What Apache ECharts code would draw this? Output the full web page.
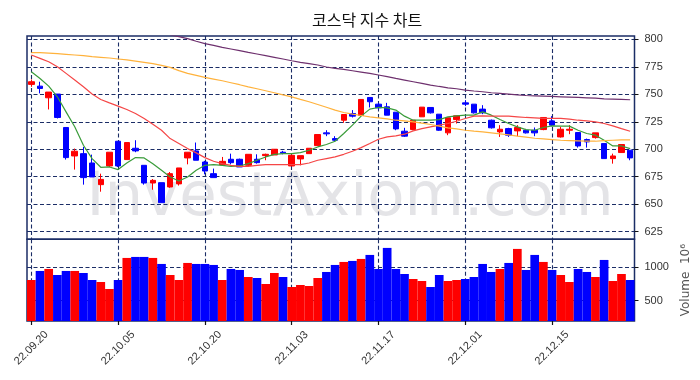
<!DOCTYPE html>
<html><head><meta charset="utf-8">
<script src="https://cdn.jsdelivr.net/npm/echarts@6/dist/echarts.min.js"></script>
<style>html,body{margin:0;padding:0;background:#fff}#c{width:700px;height:380px}</style>
</head><body><div id="c"></div>
<script>
const dates = ['22.09.20','22.09.21','22.09.22','22.09.23','22.09.26','22.09.27','22.09.28','22.09.29','22.09.30','22.10.04',
'22.10.05','22.10.06','22.10.07','22.10.11','22.10.12','22.10.13','22.10.14','22.10.17','22.10.18','22.10.19',
'22.10.20','22.10.21','22.10.24','22.10.25','22.10.26','22.10.27','22.10.28','22.10.31','22.11.01','22.11.02',
'22.11.03','22.11.04','22.11.07','22.11.08','22.11.09','22.11.10','22.11.11','22.11.14','22.11.15','22.11.16',
'22.11.17','22.11.18','22.11.21','22.11.22','22.11.23','22.11.24','22.11.25','22.11.28','22.11.29','22.11.30',
'22.12.01','22.12.02','22.12.05','22.12.06','22.12.07','22.12.08','22.12.09','22.12.12','22.12.13','22.12.14',
'22.12.15','22.12.16','22.12.19','22.12.20','22.12.21','22.12.22','22.12.23','22.12.26','22.12.27','22.12.28'];
const tickDates = ['22.09.20','22.10.05','22.10.20','22.11.03','22.11.17','22.12.01','22.12.15'];
const openP = [759.0,757.4,746.8,750.2,719.8,693.9,696.0,687.5,667.8,684.8,
707.3,690.6,700.9,685.4,669.3,669.6,665.7,668.5,692.1,698.5,
688.4,677.8,686.0,690.9,690.9,685.4,690.9,694.2,694.8,697.3,
684.8,691.2,696.0,703.3,714.9,709.7,726.4,732.5,730.7,747.1,
741.0,738.6,733.7,716.4,717.9,729.5,738.0,731.9,714.9,727.0,
742.2,741.0,736.5,726.4,715.8,718.8,716.7,717.3,717.3,717.9,
725.8,711.2,717.3,715.2,708.8,710.6,705.2,691.5,697.0,699.1];
const closeP = [761.4,755.3,752.0,728.9,692.4,698.2,674.2,674.8,672.6,697.3,
684.8,706.1,698.5,669.3,671.7,651.4,677.8,683.0,697.3,690.0,
680.2,674.2,689.0,687.8,683.9,695.4,687.8,695.4,700.0,696.4,
694.5,694.2,700.9,713.4,714.0,708.2,731.6,730.1,745.3,743.2,
737.7,731.0,718.5,711.9,726.4,738.3,733.1,717.3,728.6,730.4,
741.0,733.1,733.1,719.5,718.2,712.8,719.8,714.9,714.9,728.9,
721.9,718.2,718.2,703.0,706.7,714.9,691.5,693.9,704.3,692.1];
const lowP = [756.8,750.8,736.2,728.0,690.6,681.5,667.8,674.8,661.4,683.9,
683.9,690.6,697.3,667.8,663.2,651.4,665.0,667.0,686.3,690.0,
677.2,674.2,685.4,686.3,683.9,684.8,686.9,690.0,694.8,695.4,
684.8,685.4,696.0,703.3,711.9,707.0,724.0,728.9,730.7,738.0,
736.2,731.0,717.3,711.2,717.3,729.5,732.5,716.7,712.8,723.4,
739.2,732.5,731.9,718.8,711.2,711.2,711.9,714.3,711.9,717.3,
721.0,710.6,713.7,701.5,701.5,709.7,691.5,686.9,696.7,690.0];
const highP = [763.5,761.4,752.0,750.2,719.8,700.6,702.1,695.1,677.8,697.3,
707.3,706.1,708.2,685.4,672.9,669.6,679.3,683.0,697.3,706.1,
689.4,682.4,693.0,696.0,691.5,695.4,695.4,696.0,700.0,698.5,
695.4,694.2,700.9,713.4,717.3,711.9,731.6,735.6,745.3,747.1,
742.2,742.2,733.7,719.5,726.4,738.3,738.0,731.9,728.6,730.4,
744.7,741.0,740.1,727.0,721.9,719.5,721.9,718.5,719.8,728.9,
730.1,720.4,721.9,715.2,709.7,714.9,705.2,696.0,704.3,699.1];
const volume = [810,945,975,885,945,945,915,810,780,675,
810,1140,1155,1155,1140,1050,885,810,1065,1050,
1050,1035,810,975,960,855,840,750,915,855,
705,735,720,840,930,1035,1080,1095,1125,1185,
975,1290,975,900,825,795,705,885,795,810,
825,855,1050,930,975,1065,1275,960,1185,1080,
960,885,780,975,930,855,1110,795,900,810];
const ma5 = [770.5,764.4,757.4,747.7,734.0,720.4,703.6,691.5,683.6,683.9,
681.5,687.5,692.4,692.1,686.9,680.9,674.8,671.1,674.8,680.9,
685.4,686.0,685.4,684.5,684.8,686.9,690.0,693.0,695.4,696.0,
696.0,697.0,699.1,702.1,704.3,707.3,714.3,721.9,730.1,736.5,
738.0,737.7,735.6,730.1,726.4,726.4,726.4,727.0,729.5,730.4,
731.0,731.0,734.0,731.0,727.0,723.4,720.4,717.9,717.3,719.8,
721.3,721.0,721.0,717.3,714.3,712.8,708.2,703.0,703.0,700.6];
const ma20 = [785.7,782.7,779.6,775.1,769.0,762.9,756.8,750.2,745.3,742.2,
739.2,736.2,732.5,728.0,722.8,717.3,709.7,705.2,700.6,696.7,
692.4,689.1,686.9,685.4,684.5,684.5,685.4,686.0,686.0,686.0,
686.0,686.0,687.5,690.0,691.5,693.0,695.4,698.2,701.5,705.2,
709.1,711.2,712.2,713.7,716.7,718.8,720.4,721.9,723.4,725.5,
728.0,730.1,730.4,730.1,730.1,730.1,729.5,728.9,728.6,728.0,
728.0,728.0,727.4,726.4,725.8,724.9,723.4,721.3,718.8,716.4];
const ma60 = [787.8,787.8,787.5,786.9,786.3,785.7,785.1,784.2,783.6,783.0,
782.1,781.2,780.2,779.0,777.8,776.3,774.5,771.5,769.0,767.2,
765.3,763.8,762.3,760.5,758.7,756.8,755.0,753.2,751.4,749.5,
747.7,745.3,743.2,740.7,738.2,735.6,733.4,731.9,730.7,729.5,
728.6,727.7,726.4,725.8,724.9,723.7,722.5,721.0,719.5,718.5,
717.3,716.4,715.8,714.9,714.0,713.1,711.9,711.0,710.0,709.4,
708.8,708.2,707.9,707.6,707.3,707.3,707.9,708.2,708.5,708.5];
const ma120 = [null,null,null,null,null,null,null,null,null,null,
null,null,null,null,null,null,804.0,802.4,800.6,798.2,
796.0,794.5,792.7,791.2,789.7,788.1,786.6,785.1,783.6,782.1,
780.5,779.0,777.8,776.6,774.8,773.6,772.6,771.4,770.2,769.0,
767.5,766.0,764.4,762.9,761.4,759.9,758.4,757.1,755.9,755.0,
753.8,753.0,752.3,751.4,750.8,750.2,749.5,748.9,748.6,748.3,
748.0,747.7,747.4,747.1,746.8,746.5,745.9,745.6,745.3,745.0];
const priceTicks = [625,650,675,700,725,750,775,800];
const volumeTicks = [500,1000];

const NAVY = '#1b2d66';
const UP = '#ff0000', DOWN = '#0000ff';
const candleData = dates.map((d, i) => [openP[i], closeP[i], lowP[i], highP[i]]);
const volData = volume.map((v, i) => ({
  value: v,
  itemStyle: { color: closeP[i] > openP[i] ? UP : DOWN }
}));
const showTick = (idx, val) => tickDates.includes(val);
const dashed = { show: true, interval: showTick, alignWithLabel: true,
  lineStyle: { color: NAVY, type: [4, 2.5], width: 1.1 } };
const labelFont = { fontFamily: 'Liberation Sans, Arial, sans-serif', fontSize: 11, color: '#333' };

const chart = echarts.init(document.getElementById('c'), null, { renderer: 'canvas' });
chart.setOption({
  animation: false,
  backgroundColor: '#fff',
  title: {
    text: '코스닥 지수 차트', left: 307, top: 7,
    textStyle: { fontSize: 16, fontWeight: 'normal', color: '#111', fontFamily: 'Noto Sans CJK KR' }
  },
  graphic: [{
    type: 'text', z: -10, silent: true,
    style: { text: 'InvestAxiom.com', x: 350, y: 199, textAlign: 'center', textVerticalAlign: 'middle',
      font: '61px "DejaVu Sans"', fill: '#e4e4e7' }
  }],
  grid: [
    { left: 27, right: 65.5, top: 36, height: 203.3, show: true, borderColor: NAVY, borderWidth: 1.5 },
    { left: 27, right: 65.5, top: 239.3, height: 81.7, show: true, borderColor: NAVY, borderWidth: 1.5 }
  ],
  xAxis: [
    { type: 'category', gridIndex: 0, data: dates, boundaryGap: true,
      axisLine: { show: false }, axisTick: { show: false }, axisLabel: { show: false },
      splitLine: dashed },
    { type: 'category', gridIndex: 1, data: dates, boundaryGap: true,
      axisLine: { show: false },
      axisTick: { show: true, interval: showTick, alignWithLabel: true, length: 4, inside: false,
        lineStyle: { color: '#111', width: 1.2 } },
      axisLabel: Object.assign({ interval: showTick, rotate: 45, align: 'center', verticalAlign: 'middle', margin: 27 }, labelFont),
      splitLine: dashed }
  ],
  yAxis: [
    { type: 'value', gridIndex: 0, position: 'right', min: 618.1, max: 803, scale: true,
      axisLine: { show: false },
      axisTick: { show: true, customValues: priceTicks, length: 4, lineStyle: { color: '#111' } },
      axisLabel: Object.assign({ customValues: priceTicks, margin: 10, formatter: v => String(v) }, labelFont),
      splitLine: { show: true, lineStyle: { color: NAVY, type: [4, 2.5], width: 1.1 } } },
    { type: 'value', gridIndex: 1, position: 'right', min: 196, max: 1419, scale: true,
      axisLine: { show: false },
      axisTick: { show: true, customValues: volumeTicks, length: 4, lineStyle: { color: '#111' } },
      axisLabel: Object.assign({ customValues: volumeTicks, margin: 10, formatter: v => String(v) }, labelFont),
      splitLine: { show: true, lineStyle: { color: NAVY, type: [4, 2.5], width: 1.1 } },
      name: 'Volume  10⁶', nameLocation: 'middle', nameRotate: 90, nameGap: 39,
      nameTextStyle: { fontFamily: 'DejaVu Sans', fontSize: 12, color: '#555' } }
  ],
  series: [
    { type: 'candlestick', xAxisIndex: 0, yAxisIndex: 0, data: candleData, barWidth: 6,
      itemStyle: { color: UP, color0: DOWN, borderColor: UP, borderColor0: DOWN, borderWidth: 1 } },
    { type: 'line', xAxisIndex: 0, yAxisIndex: 0, data: ma5, showSymbol: false, smooth: false,
      lineStyle: { color: '#3a9c3a', width: 1.2 } },
    { type: 'line', xAxisIndex: 0, yAxisIndex: 0, data: ma20, showSymbol: false,
      lineStyle: { color: '#f54646', width: 1.2 } },
    { type: 'line', xAxisIndex: 0, yAxisIndex: 0, data: ma60, showSymbol: false,
      lineStyle: { color: '#ffb23c', width: 1.2 } },
    { type: 'line', xAxisIndex: 0, yAxisIndex: 0, data: ma120, showSymbol: false, connectNulls: false,
      lineStyle: { color: '#6e306e', width: 1.2 } },
    { type: 'bar', xAxisIndex: 1, yAxisIndex: 1, data: volData, barCategoryGap: '0%' }
  ]
});
</script></body></html>
